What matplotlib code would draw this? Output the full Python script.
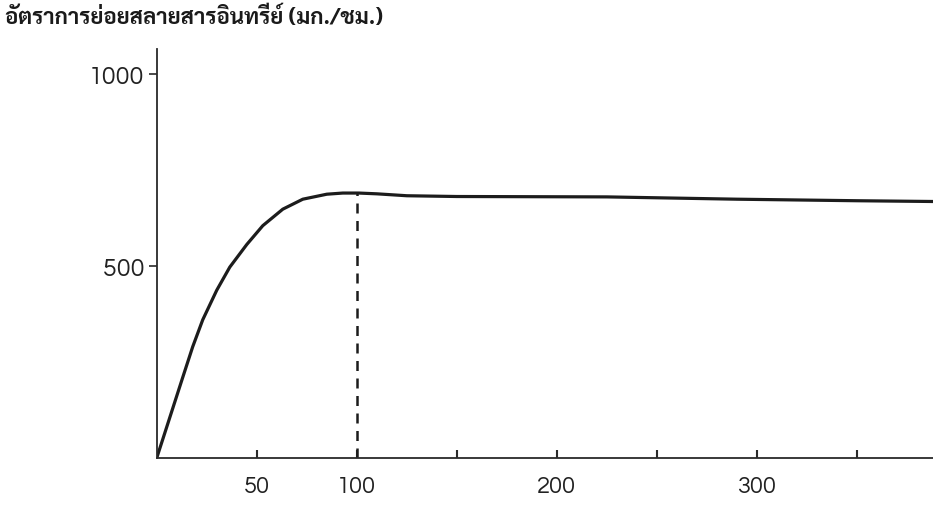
import matplotlib
matplotlib.use("Agg")
import matplotlib.pyplot as plt

# อัตราการย่อยสลาย vs เวลา
x = [0, 6.5, 13, 18, 23, 30, 36.5, 45, 53, 63, 73, 85, 93, 101, 110, 125, 150, 225, 290, 350, 388]
y = [0, 105, 210, 290, 360, 437, 497, 556, 605, 648, 674, 687, 690, 690, 688, 683, 681, 680, 674, 670, 668]
x_mark = 100
y_mark = 690
xticks = [50, 100, 150, 200, 250, 300, 350]
xlabels = ["50", "100", "", "200", "", "300", ""]
yticks = [500, 1000]
ylabels = ["500", "1000"]
title = "อัตราการย่อยสลายสารอินทรีย์ (มก./ชม.)"

num_font = ["Questrial", "Didact Gothic", "DejaVu Sans"]
thai_font = ["Sarabun", "DejaVu Sans"]

fig = plt.figure(figsize=(9.33, 5.06), dpi=100)
ax = fig.add_axes([0.168, 0.093, 0.832, 0.808])

ax.plot(x, y, color="#1c1c1c", lw=2.3, solid_capstyle="round", solid_joinstyle="round")
ax.plot([x_mark, x_mark], [0, y_mark], color="#1c1c1c", lw=1.8, ls=(0, (4, 3)))

ax.set_xlim(0, 388)
ax.set_ylim(0, 1065)
ax.spines["top"].set_visible(False)
ax.spines["right"].set_visible(False)
for s in ["left", "bottom"]:
    ax.spines[s].set_linewidth(1.3)
    ax.spines[s].set_color("#2a2a2a")

ax.set_xticks(xticks)
ax.set_xticklabels(xlabels, family=num_font, fontsize=17, color="#333333")
ax.set_yticks(yticks)
ax.set_yticklabels(ylabels, family=num_font, fontsize=18, color="#222222")
ax.tick_params(axis="x", direction="in", length=6, width=1.5, pad=12, colors="#2a2a2a")
ax.tick_params(axis="y", direction="out", length=6, width=1.2, pad=3, colors="#2a2a2a")
for lab in ax.get_xticklabels() + ax.get_yticklabels():
    lab.set_color("#222222")

fig.text(0.005, 0.965, title, family=thai_font, fontsize=16, fontweight="bold",
         color="#1a1a1a", va="center", ha="left")

fig.savefig("out.png", dpi=100)
